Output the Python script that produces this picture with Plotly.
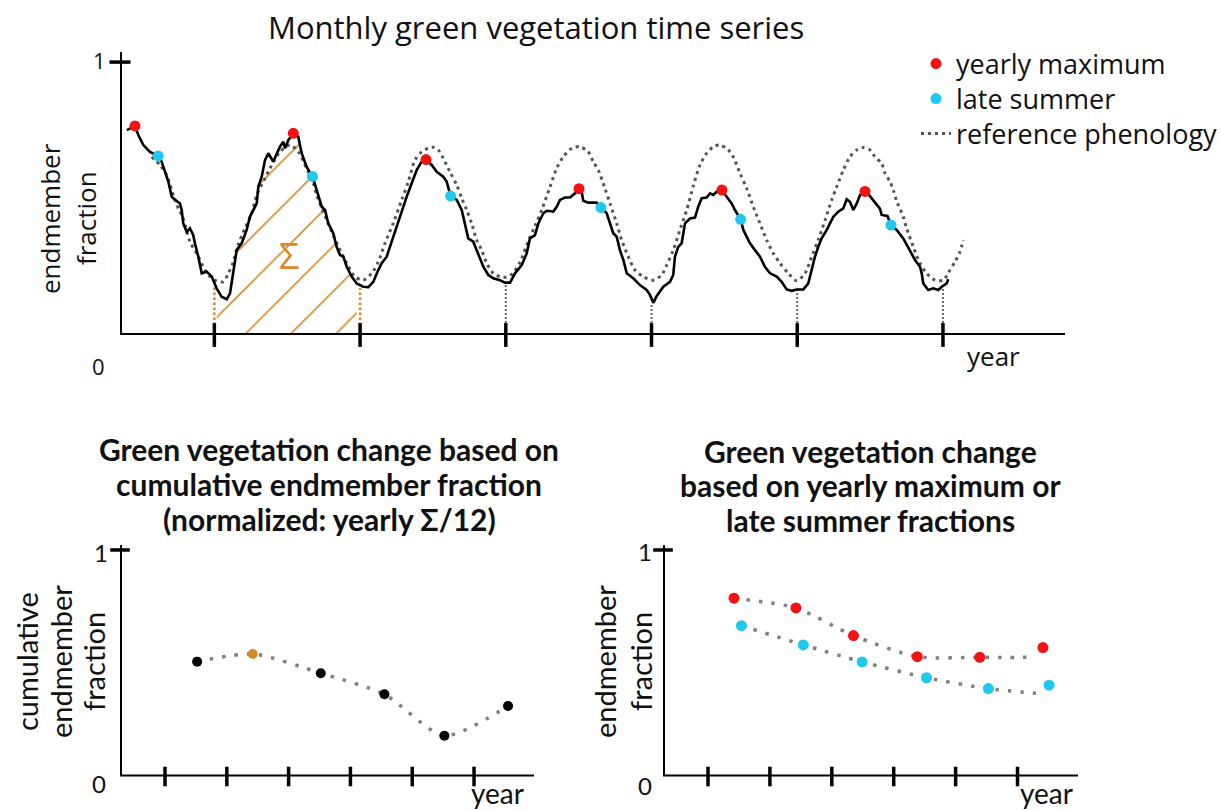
import plotly.graph_objects as go

# ---------------- data ----------------
# Top panel: monthly green-vegetation fraction (x in months)
black_month = [4.80, 5.46, 5.74, 6.15, 6.70, 7.38, 7.66, 7.93, 8.21, 8.49,
               8.76, 9.17, 9.31, 9.44, 9.72, 9.99, 10.26, 10.40, 10.68, 10.96,
               11.37, 11.78, 12.19, 12.60, 13.02, 13.29, 13.56, 13.84, 14.25, 14.66,
               14.93, 15.21, 15.49, 15.62, 15.90, 16.17, 16.44, 16.85, 17.13, 17.40,
               17.68, 17.82, 18.09, 18.50, 18.91, 19.19, 19.60, 20.08, 20.43, 20.84,
               21.11, 21.38, 21.79, 22.07, 22.35, 22.62, 22.90, 23.31, 23.72, 24.26,
               24.68, 25.09, 25.50, 25.78, 26.19, 26.73, 27.29, 27.84, 28.25, 28.66,
               29.07, 29.43, 29.90, 30.31, 30.85, 31.13, 31.46, 31.96, 32.37, 32.64,
               32.91, 33.32, 33.73, 34.15, 34.56, 34.97, 35.52, 35.93, 36.35, 36.76,
               37.31, 37.72, 37.99, 38.40, 38.68, 39.09, 39.37, 39.91, 40.19, 40.46,
               40.87, 41.29, 41.70, 42.03, 42.25, 42.38, 42.79, 43.48, 43.84, 44.31,
               44.58, 44.85, 45.13, 45.40, 45.68, 45.96, 46.50, 47.05, 47.60, 47.87,
               48.15, 48.43, 48.97, 49.52, 49.79, 49.93, 50.20, 50.48, 50.76, 51.17,
               51.58, 51.85, 52.13, 52.54, 52.82, 53.09, 53.37, 53.80, 54.19, 54.60,
               54.87, 55.34, 55.56, 55.84, 56.11, 56.52, 56.93, 57.34, 57.76, 58.31,
               58.72, 59.13, 59.54, 59.95, 60.50, 60.91, 61.19, 61.46, 61.73, 62.01,
               62.43, 62.70, 62.97, 63.38, 63.79, 64.07, 64.34, 64.62, 64.90, 65.17,
               65.58, 65.99, 66.40, 66.81, 66.95, 67.43, 67.72, 68.19, 68.73, 69.29,
               69.70, 70.11, 70.25, 70.38, 70.79, 71.20, 71.62, 71.90, 72.31, 72.44]
black_frac = [0.751, 0.766, 0.733, 0.696, 0.671, 0.656, 0.635, 0.598, 0.562, 0.507,
              0.495, 0.482, 0.458, 0.409, 0.378, 0.391, 0.366, 0.336, 0.287, 0.226,
              0.232, 0.214, 0.171, 0.140, 0.131, 0.153, 0.238, 0.311, 0.336, 0.385,
              0.433, 0.458, 0.482, 0.543, 0.580, 0.641, 0.666, 0.635, 0.666, 0.690,
              0.708, 0.684, 0.714, 0.739, 0.726, 0.666, 0.616, 0.581, 0.531, 0.470,
              0.458, 0.409, 0.373, 0.323, 0.293, 0.287, 0.250, 0.214, 0.189, 0.177,
              0.175, 0.195, 0.238, 0.263, 0.287, 0.360, 0.433, 0.507, 0.556, 0.604,
              0.635, 0.643, 0.623, 0.598, 0.580, 0.562, 0.509, 0.495, 0.458, 0.409,
              0.354, 0.342, 0.299, 0.250, 0.220, 0.208, 0.201, 0.192, 0.192, 0.226,
              0.256, 0.299, 0.354, 0.366, 0.409, 0.446, 0.455, 0.452, 0.470, 0.495,
              0.504, 0.504, 0.519, 0.536, 0.525, 0.492, 0.485, 0.485, 0.467, 0.446,
              0.409, 0.373, 0.360, 0.311, 0.275, 0.226, 0.208, 0.183, 0.165, 0.147,
              0.118, 0.143, 0.177, 0.195, 0.220, 0.287, 0.323, 0.336, 0.409, 0.427,
              0.430, 0.470, 0.501, 0.504, 0.519, 0.513, 0.525, 0.531, 0.507, 0.482,
              0.458, 0.424, 0.385, 0.360, 0.336, 0.311, 0.287, 0.250, 0.226, 0.214,
              0.195, 0.167, 0.162, 0.167, 0.167, 0.189, 0.238, 0.287, 0.323, 0.354,
              0.385, 0.409, 0.433, 0.452, 0.464, 0.497, 0.488, 0.458, 0.482, 0.513,
              0.526, 0.509, 0.484, 0.463, 0.440, 0.436, 0.403, 0.385, 0.354, 0.311,
              0.275, 0.250, 0.226, 0.189, 0.165, 0.171, 0.165, 0.177, 0.189, 0.204]

ref_month = [6.84, 7.52, 8.07, 8.62, 9.03, 9.44, 9.99, 10.54, 11.23, 11.64,
             12.19, 12.73, 13.15, 13.56, 13.95, 14.52, 15.07, 15.49, 16.17, 16.58,
             17.40, 18.23, 18.91, 19.55, 20.15, 20.43, 21.25, 22.35, 22.90, 23.58,
             24.26, 24.96, 25.50, 26.05, 26.73, 27.43, 27.97, 28.52, 29.07, 29.62,
             30.03, 30.44, 30.85, 31.40, 31.96, 32.37, 32.78, 33.19, 33.60, 34.01,
             34.43, 34.97, 35.52, 36.07, 36.59, 37.17, 37.83, 38.40, 38.96, 39.64,
             40.19, 40.73, 41.43, 42.11, 42.79, 43.21, 43.62, 44.17, 44.58, 45.13,
             45.54, 46.09, 46.64, 47.32, 48.15, 48.84, 49.25, 49.79, 50.34, 50.90,
             51.44, 51.99, 52.54, 53.09, 53.64, 54.32, 54.73, 55.29, 55.84, 56.38,
             56.93, 57.48, 58.03, 58.58, 59.26, 59.95, 60.64, 61.19, 61.73, 62.29,
             62.84, 63.25, 63.79, 64.34, 64.90, 65.37, 65.99, 66.40, 66.95, 67.23,
             67.64, 67.91, 68.19, 68.73, 69.01, 69.56, 70.11, 70.66, 71.34, 72.03,
             72.44, 72.99, 73.40, 73.67]
ref_frac = [0.653, 0.623, 0.586, 0.513, 0.464, 0.427, 0.342, 0.299, 0.238, 0.214,
            0.198, 0.195, 0.226, 0.267, 0.330, 0.391, 0.446, 0.513, 0.574, 0.611,
            0.671, 0.696, 0.671, 0.615, 0.556, 0.513, 0.421, 0.311, 0.263, 0.214,
            0.201, 0.226, 0.268, 0.336, 0.409, 0.495, 0.562, 0.641, 0.671, 0.684,
            0.688, 0.678, 0.647, 0.598, 0.549, 0.501, 0.458, 0.409, 0.348, 0.311,
            0.263, 0.226, 0.214, 0.212, 0.227, 0.267, 0.341, 0.399, 0.458, 0.543,
            0.611, 0.653, 0.684, 0.690, 0.671, 0.635, 0.604, 0.537, 0.482, 0.409,
            0.348, 0.287, 0.238, 0.214, 0.201, 0.220, 0.256, 0.311, 0.385, 0.458,
            0.546, 0.623, 0.666, 0.690, 0.696, 0.678, 0.653, 0.592, 0.537, 0.470,
            0.409, 0.348, 0.299, 0.263, 0.226, 0.199, 0.226, 0.287, 0.348, 0.421,
            0.495, 0.543, 0.604, 0.653, 0.678, 0.687, 0.678, 0.653, 0.629, 0.592,
            0.562, 0.531, 0.490, 0.433, 0.391, 0.323, 0.263, 0.226, 0.201, 0.201,
            0.228, 0.268, 0.305, 0.348]

max_month = [5.46, 18.50, 29.43, 42.03, 53.80, 65.58]
max_frac = [0.766, 0.739, 0.643, 0.536, 0.531, 0.526]
late_month = [7.38, 20.08, 31.46, 43.84, 55.34, 67.72]
late_frac = [0.656, 0.581, 0.509, 0.467, 0.424, 0.403]

year_end_month = [12, 24, 36, 48, 60, 72]
year_end_frac = [0.183, 0.172, 0.190, 0.117, 0.165, 0.176]
sum_year = (12, 24)  # hatched year (Σ)

# Bottom-left: cumulative (normalised) fraction per year
cum_year = [1.52, 2.42, 3.52, 4.55, 5.52, 6.55]
cum_frac = [0.507, 0.541, 0.456, 0.363, 0.180, 0.311]

# Bottom-right: yearly maximum / late summer per year
bmax_year = [1.42, 2.42, 3.35, 4.38, 5.39, 6.41]
bmax_frac = [0.787, 0.744, 0.622, 0.529, 0.526, 0.569]
blate_year = [1.54, 2.54, 3.49, 4.53, 5.53, 6.51]
blate_frac = [0.666, 0.581, 0.506, 0.436, 0.388, 0.403]
max_trend_year = [1.42, 2.42, 3.35, 4.38, 5.39, 6.28]
max_trend_frac = [0.787, 0.744, 0.622, 0.529, 0.526, 0.526]
late_trend_year = [1.54, 2.54, 3.49, 4.53, 5.53, 6.30]
late_trend_frac = [0.666, 0.581, 0.506, 0.436, 0.388, 0.367]

year_ticks = [1, 2, 3, 4, 5, 6]

# ---------------- styling ----------------
W, H = 1220, 810
ORANGE = '#d9892c'
RED = '#f21212'
CYAN = '#1ec8ef'
GREY = '#555555'
TOP_FONT = 'Open Sans'
BOT_FONT = 'Lato'


def pxx(x):
    return x / W


def pyy(y):
    return 1 - y / H


TOP_X = [4.23, 82.05]
TOP_Y = [0, 1.037]
BL_X = [0.272, 6.97]
BR_X = [0.273, 6.977]
BOT_Y = [0, 1.022]

fig = go.Figure()

# hatched Σ area (year 2)
sx = [m for m in black_month if sum_year[0] <= m <= sum_year[1]]
sy = [f for m, f in zip(black_month, black_frac) if sum_year[0] <= m <= sum_year[1]]
fig.add_trace(go.Scatter(x=sx, y=sy, mode='lines', line=dict(width=0),
                         fill='tozeroy', fillcolor='rgba(255,255,255,0)',
                         fillpattern=dict(shape='/', fgcolor=ORANGE, fgopacity=1,
                                          size=32, solidity=0.05, fillmode='replace'),
                         hoverinfo='skip', showlegend=False))

# reference phenology (dotted)
fig.add_trace(go.Scatter(x=ref_month, y=ref_frac, mode='lines', name='reference phenology',
                         line=dict(color=GREY, width=3, dash='3px,4px', shape='spline', smoothing=0.8),
                         legend='legend3'))

# year boundary verticals
for m, f in zip(year_end_month, year_end_frac):
    is_sum = m in sum_year
    fig.add_trace(go.Scatter(x=[m, m], y=[0, f], mode='lines',
                             line=dict(color=ORANGE if is_sum else '#666666',
                                       width=2.6 if is_sum else 2,
                                       dash='2.5px,2.5px' if is_sum else '2px,2px'),
                             hoverinfo='skip', showlegend=False))

# black monthly series
fig.add_trace(go.Scatter(x=black_month, y=black_frac, mode='lines',
                         line=dict(color='black', width=2.6), showlegend=False, hoverinfo='skip'))

fig.add_trace(go.Scatter(x=max_month, y=max_frac, mode='markers', name='yearly maximum',
                         marker=dict(color=RED, size=11), legend='legend'))
fig.add_trace(go.Scatter(x=late_month, y=late_frac, mode='markers', name='late summer',
                         marker=dict(color=CYAN, size=11), legend='legend2'))

# ticks top
fig.add_trace(go.Scatter(x=year_end_month, y=[0] * len(year_end_month), mode='markers',
                         marker=dict(symbol='line-ns', size=17, line=dict(color='black', width=3.5)),
                         cliponaxis=False, showlegend=False, hoverinfo='skip'))
fig.add_trace(go.Scatter(x=[TOP_X[0]], y=[1], mode='markers',
                         marker=dict(symbol='line-ew', size=15, line=dict(color='black', width=3.5)),
                         cliponaxis=False, showlegend=False, hoverinfo='skip'))

# bottom-left
fig.add_trace(go.Scatter(x=cum_year, y=cum_frac, mode='lines', xaxis='x2', yaxis='y2',
                         line=dict(color='#808080', width=3.5, dash='3.5px,9px', shape='spline', smoothing=0.7),
                         showlegend=False, hoverinfo='skip'))
fig.add_trace(go.Scatter(x=cum_year, y=cum_frac, mode='markers', xaxis='x2', yaxis='y2',
                         marker=dict(color=['black', ORANGE, 'black', 'black', 'black', 'black'], size=10),
                         showlegend=False))

# bottom-right
fig.add_trace(go.Scatter(x=max_trend_year, y=max_trend_frac, mode='lines', xaxis='x3', yaxis='y3',
                         line=dict(color='#808080', width=3.5, dash='3.5px,9px', shape='spline', smoothing=0.7),
                         showlegend=False, hoverinfo='skip'))
fig.add_trace(go.Scatter(x=late_trend_year, y=late_trend_frac, mode='lines', xaxis='x3', yaxis='y3',
                         line=dict(color='#808080', width=3.5, dash='3.5px,9px', shape='spline', smoothing=0.7),
                         showlegend=False, hoverinfo='skip'))
fig.add_trace(go.Scatter(x=bmax_year, y=bmax_frac, mode='markers', xaxis='x3', yaxis='y3',
                         marker=dict(color=RED, size=11), showlegend=False))
fig.add_trace(go.Scatter(x=blate_year, y=blate_frac, mode='markers', xaxis='x3', yaxis='y3',
                         marker=dict(color=CYAN, size=11), showlegend=False))

for xa, ya, xr in [('x2', 'y2', BL_X), ('x3', 'y3', BR_X)]:
    fig.add_trace(go.Scatter(x=year_ticks, y=[0] * len(year_ticks), mode='markers', xaxis=xa, yaxis=ya,
                             marker=dict(symbol='line-ns', size=14, line=dict(color='black', width=3.5)),
                             cliponaxis=False, showlegend=False, hoverinfo='skip'))
    fig.add_trace(go.Scatter(x=[xr[0]], y=[1], mode='markers', xaxis=xa, yaxis=ya,
                             marker=dict(symbol='line-ew', size=14, line=dict(color='black', width=3.5)),
                             cliponaxis=False, showlegend=False, hoverinfo='skip'))

# axis lines (L-shaped paths)
for xr, yr, xrng, yrng in [('x', 'y', TOP_X, TOP_Y), ('x2', 'y2', BL_X, BOT_Y), ('x3', 'y3', BR_X, BOT_Y)]:
    fig.add_shape(type='path', xref=xr, yref=yr,
                  path=f'M {xrng[0]},{yrng[1]} L {xrng[0]},0 L {xrng[1]},0',
                  line=dict(color='black', width=4), layer='above')

axis_common = dict(visible=False, showgrid=False, zeroline=False, fixedrange=True)


def legend_at(ypix):
    return dict(x=pxx(916), y=pyy(ypix), xanchor='left', yanchor='middle',
                font=dict(family=TOP_FONT, size=27, color='#111111'),
                bgcolor='rgba(0,0,0,0)', itemwidth=30)


fig.update_layout(
    width=W, height=H, margin=dict(l=0, r=0, t=0, b=0, autoexpand=False),
    paper_bgcolor='white', plot_bgcolor='rgba(0,0,0,0)',
    xaxis=dict(domain=[pxx(120), pxx(1065)], range=TOP_X, anchor='y', **axis_common),
    yaxis=dict(domain=[pyy(335), pyy(52)], range=TOP_Y, anchor='x', **axis_common),
    xaxis2=dict(domain=[pxx(120), pxx(534)], range=BL_X, anchor='y2', **axis_common),
    yaxis2=dict(domain=[pyy(776.5), pyy(545)], range=BOT_Y, anchor='x2', **axis_common),
    xaxis3=dict(domain=[pxx(663), pxx(1078)], range=BR_X, anchor='y3', **axis_common),
    yaxis3=dict(domain=[pyy(776.5), pyy(545)], range=BOT_Y, anchor='x3', **axis_common),
    legend=legend_at(64), legend2=legend_at(99), legend3=legend_at(134),
    showlegend=True,
)

annotations = []


def ann(text, x, y, size, family, angle=0, color='#111111', weight='normal'):
    annotations.append(dict(text=text, x=pxx(x), y=pyy(y), xref='paper', yref='paper',
                            showarrow=False, xanchor='center', yanchor='middle', textangle=angle,
                            font=dict(family=family, size=size, color=color, weight=weight)))


# top
ann('Monthly green vegetation time series', 536, 27, 31, TOP_FONT)
ann('endmember', 50, 218, 26, TOP_FONT, -90)
ann('fraction', 86, 218, 26, TOP_FONT, -90)
ann('1', 100, 60, 22, TOP_FONT)
ann('0', 98, 366, 22, TOP_FONT)
ann('year', 993, 356, 26, TOP_FONT)
ann('Σ', 289, 255, 36, TOP_FONT, color=ORANGE)

# bottom-left
for t, y in [('Green vegetation change based on', 449), ('cumulative endmember fraction', 484),
             ('(normalized: yearly Σ/12)', 519)]:
    ann(t, 329, y, 30, BOT_FONT, weight='bold')
ann('cumulative', 26, 662, 29, BOT_FONT, -90)
ann('endmember', 60, 662, 29, BOT_FONT, -90)
ann('fraction', 93, 662, 29, BOT_FONT, -90)
ann('1', 101, 552, 24, BOT_FONT)
ann('0', 99, 783, 24, BOT_FONT)
ann('year', 498, 793, 28, BOT_FONT)

# bottom-right
for t, y in [('Green vegetation change', 451), ('based on yearly maximum or', 485),
             ('late summer fractions', 520)]:
    ann(t, 870, y, 30, BOT_FONT, weight='bold')
ann('endmember', 604, 662, 29, BOT_FONT, -90)
ann('fraction', 640, 662, 29, BOT_FONT, -90)
ann('1', 645, 551, 24, BOT_FONT)
ann('0', 645, 785, 24, BOT_FONT)
ann('year', 1046, 793, 28, BOT_FONT)

fig.update_layout(annotations=annotations)

fig.write_html('out.html')
